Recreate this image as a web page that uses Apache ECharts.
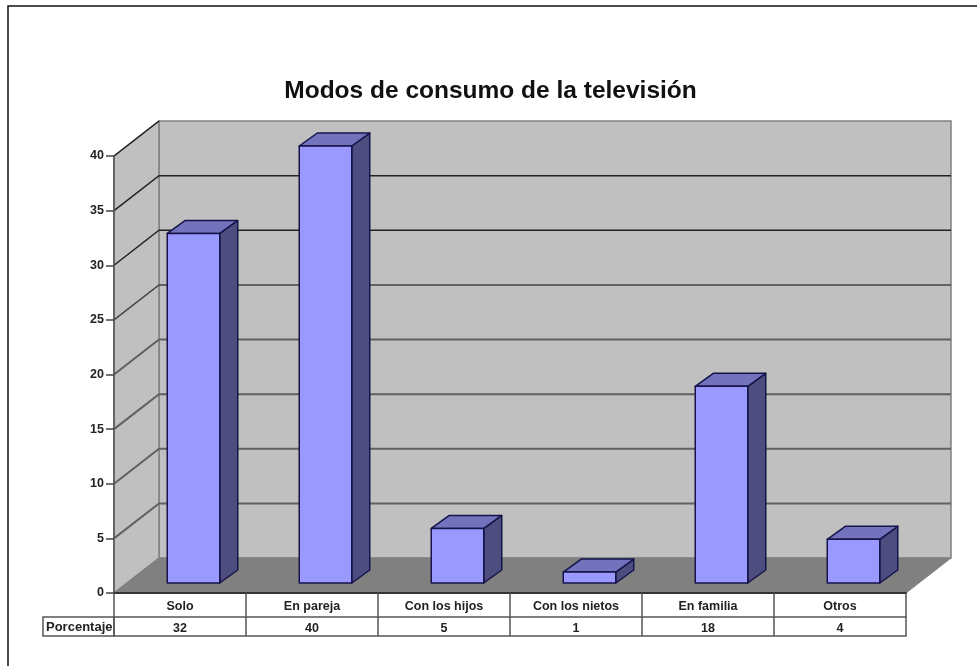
<!DOCTYPE html>
<html>
<head>
<meta charset="utf-8">
<title>Modos de consumo de la televisión</title>
<script src="https://cdn.jsdelivr.net/npm/echarts@6/dist/echarts.min.js"></script>
<style>
html,body{margin:0;padding:0;background:#fff}
#main{width:977px;height:666px}
</style>
</head>
<body>
<div id="main"></div>
<script>
var categories = ['Solo', 'En pareja', 'Con los hijos', 'Con los nietos', 'En familia', 'Otros'];
var porcentaje = [32, 40, 5, 1, 18, 4];
var yTicks = [5, 10, 15, 20, 25, 30, 35, 40];

// profundidad del falso 3D, en px
var wallDx = 45, wallDy = -35;
var barDx = 18, barDy = -13;
var barShiftX = 13.5, barShiftY = -10, barWidth = 52.5;
var FONT = '"Liberation Sans", Arial, sans-serif';
var BORDER = '#14144a';

// paredes y suelo
function renderWalls(params, api) {
	var c = params.coordSys;
	var x0 = c.x, x1 = c.x + c.width, yt = c.y, yb = c.y + c.height;
	var edge = {stroke: '#808080', lineWidth: 1.5};
	return {type: 'group', children: [
		{type: 'polygon', shape: {points: [[x0 + wallDx, yt + wallDy], [x1 + wallDx, yt + wallDy], [x1 + wallDx, yb + wallDy], [x0 + wallDx, yb + wallDy]]},
			style: {fill: '#c0c0c0', stroke: edge.stroke, lineWidth: edge.lineWidth}},
		{type: 'polygon', shape: {points: [[x0, yt], [x0 + wallDx, yt + wallDy], [x0 + wallDx, yb + wallDy], [x0, yb]]},
			style: {fill: '#c0c0c0', stroke: edge.stroke, lineWidth: edge.lineWidth}},
		{type: 'polygon', shape: {points: [[x0, yb], [x0 + wallDx, yb + wallDy], [x1 + wallDx, yb + wallDy], [x1, yb]]},
			style: {fill: '#808080', stroke: '#808080', lineWidth: 1}}
	]};
}

// lineas de la pared, quebradas en la esquina
function renderGridLine(params, api) {
	var c = params.coordSys;
	var v = api.value(0);
	var y = api.coord([0, v])[1];
	var pts = [[c.x, y], [c.x + wallDx, y + wallDy]];
	if (v < 40) {
		pts.push([c.x + c.width + wallDx, y + wallDy]);
	}
	// abajo las lineas salen mas claras y gruesas
	var color = v >= 30 ? '#222' : (v >= 25 ? '#444' : '#606060');
	return {type: 'polyline', shape: {points: pts}, style: {fill: null, stroke: color, lineWidth: v >= 25 ? 1.5 : 2}};
}

function renderBar(params, api) {
	var base = api.coord([api.value(0), 0]);
	var top = api.coord([api.value(0), api.value(1)]);
	var xl = base[0] + barShiftX - barWidth / 2, xr = xl + barWidth;
	var yb = base[1] + barShiftY, yt = top[1] + barShiftY;
	var line = {stroke: BORDER, lineWidth: 1.5, lineJoin: 'round'};
	return {type: 'group', children: [
		{type: 'polygon', shape: {points: [[xr, yb], [xr + barDx, yb + barDy], [xr + barDx, yt + barDy], [xr, yt]]},
			style: Object.assign({fill: '#4d4d80'}, line)},
		{type: 'polygon', shape: {points: [[xl, yt], [xl + barDx, yt + barDy], [xr + barDx, yt + barDy], [xr, yt]]},
			style: Object.assign({fill: '#7272bd'}, line)},
		{type: 'rect', shape: {x: xl, y: yt, width: barWidth, height: yb - yt},
			style: Object.assign({fill: '#9999ff'}, line)}
	]};
}

var tableLine = {show: true, onZero: false, lineStyle: {color: '#555', width: 1.5}};
var tableLabel = {fontFamily: FONT, fontWeight: 'bold', fontSize: 12.5, color: '#222'};

var option = {
	animation: false,
	backgroundColor: '#fff',
	title: {
		text: 'Modos de consumo de la televisión',
		left: 485.5, top: 74, textAlign: 'center',
		textStyle: {fontFamily: FONT, fontWeight: 'bold', fontSize: 24.5, color: '#111'}
	},
	grid: {left: 114, top: 156, width: 792, height: 437, containLabel: false},
	graphic: [
		{type: 'polyline', silent: true, shape: {points: [[977, 6], [8, 6], [8, 666]]},
			style: {fill: null, stroke: '#111', lineWidth: 1.5}},
		{type: 'rect', silent: true, shape: {x: 43, y: 617, width: 71, height: 19},
			style: {fill: '#fff', stroke: '#555', lineWidth: 1.5}},
		{type: 'text', silent: true, style: {x: 46, y: 627.5, text: 'Porcentaje', verticalAlign: 'middle',
			fontFamily: FONT, fontWeight: 'bold', fontSize: 13, fill: '#222'}}
	],
	xAxis: [
		{type: 'category', data: categories, position: 'bottom', boundaryGap: true,
			axisLine: {show: true, onZero: false, lineStyle: {color: '#333', width: 2}},
			axisTick: {show: true, alignWithLabel: false, length: 43, lineStyle: {color: '#555', width: 1.5}},
			axisLabel: Object.assign({margin: 7, interval: 0}, tableLabel),
			splitLine: {show: false}, z: 5},
		{type: 'category', data: porcentaje.map(String), position: 'bottom', offset: 24,
			axisLine: tableLine, axisTick: {show: false},
			axisLabel: Object.assign({margin: 5, interval: 0}, tableLabel),
			splitLine: {show: false}, z: 5},
		{type: 'category', data: categories, position: 'bottom', offset: 43,
			axisLine: tableLine, axisTick: {show: false}, axisLabel: {show: false},
			splitLine: {show: false}, z: 5}
	],
	yAxis: {
		type: 'value', min: 0, max: 40, interval: 5,
		axisLine: {show: true, lineStyle: {color: '#555', width: 1.5}},
		axisTick: {show: true, length: 8, lineStyle: {color: '#444', width: 1.5}},
		axisLabel: {margin: 10, fontFamily: FONT, fontWeight: 'bold', fontSize: 12.5, color: '#222'},
		splitLine: {show: false}, z: 5
	},
	series: [
		{type: 'custom', name: 'paredes', clip: false, silent: true, z: 1, renderItem: renderWalls, data: [0]},
		{type: 'custom', name: 'lineas', clip: false, silent: true, z: 2, renderItem: renderGridLine,
			encode: {x: null, y: 0}, data: yTicks.map(function (v) { return [v]; })},
		{type: 'custom', name: 'Porcentaje', clip: false, silent: true, z: 3, renderItem: renderBar,
			encode: {x: 0, y: 1}, data: porcentaje.map(function (v, i) { return [i, v]; })}
	]
};

var myChart = echarts.init(document.getElementById('main'), null, {renderer: 'canvas'});
myChart.setOption(option);
</script>
</body>
</html>
